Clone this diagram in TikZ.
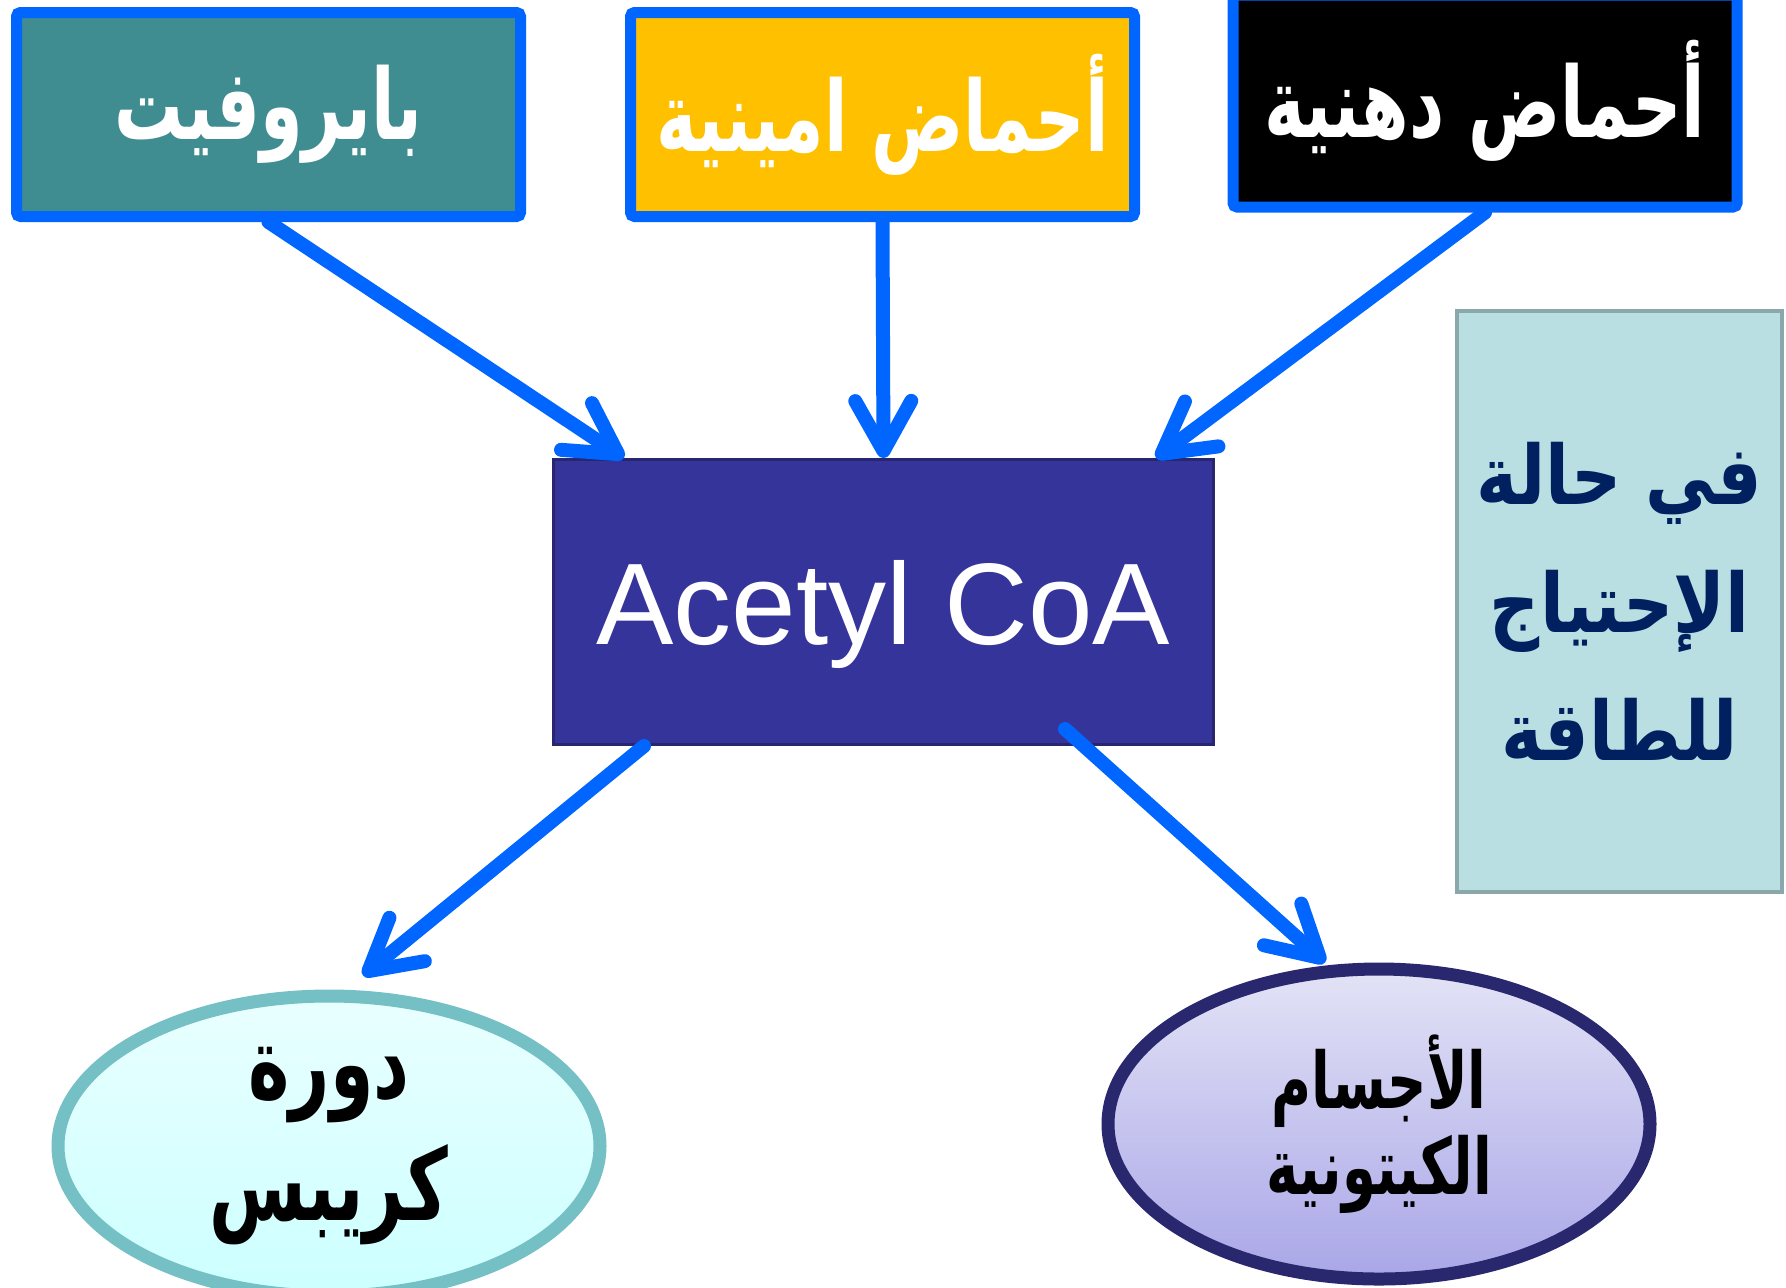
\documentclass[tikz,border=0pt]{standalone}
\usepackage{fontspec}
\setmainfont{Liberation Sans}
\newfontfamily\arabicfont[Script=Arabic, FakeStretch=0.7]{DejaVu Sans}
\newfontfamily\arabicbreit[Script=Arabic, FakeStretch=0.85]{DejaVu Sans}
\TeXXeTstate=1
\usetikzlibrary{arrows.meta,shapes.geometric}
\definecolor{pfeilblau}{HTML}{0066FF}
\definecolor{pyrtuerkis}{HTML}{3F8C91}
\definecolor{aminogelb}{HTML}{FFC000}
\definecolor{acetylblau}{HTML}{35349A}
\definecolor{acetylrand}{HTML}{27266E}
\definecolor{seitenblau}{HTML}{BADFE2}
\definecolor{seitenrand}{HTML}{8AA8AA}
\definecolor{seitentext}{HTML}{002060}
\definecolor{krebsoben}{HTML}{E9FFFF}
\definecolor{krebsunten}{HTML}{CCFFFF}
\definecolor{krebsrand}{HTML}{74C0C4}
\definecolor{ketooben}{HTML}{E3E3F6}
\definecolor{ketounten}{HTML}{A9A6E7}
\definecolor{ketorand}{HTML}{29286F}

\begin{document}
\begin{tikzpicture}[x=0.5pt, y=-0.5pt,
    quelle/.style={draw=pfeilblau, line width=5.5pt, rounded corners=2pt,
        minimum width=252pt, minimum height=102pt, inner sep=0pt,
        text=white, font=\arabicfont\bfseries\fontsize{49}{56}\selectfont},
    ziel/.style={ellipse, line width=6.5pt, minimum width=271pt, inner sep=0pt,
        align=center},
    pfeil/.style={draw=pfeilblau, line width=7pt, line cap=round,
        -{Straight Barb[length=25pt, width=28pt, round]}}]
    \useasboundingbox (0,0) rectangle (1786,1287);

    % Ausgangsstoffe oben
    \node[quelle, fill=pyrtuerkis] (pyr) at (268.5,114.5) {\beginR بايروفيت\endR};
    \node[quelle, fill=aminogelb] (amino) at (882.5,114.5) {\beginR أحماض امينية\endR};
    \node[quelle, fill=black, minimum height=106pt] (fett) at (1485,101) {\beginR أحماض دهنية\endR};

    % Acetyl CoA in der Mitte
    \node[draw=acetylrand, fill=acetylblau, line width=1.5pt, minimum width=330pt,
        minimum height=142.5pt, text=white, text height=54pt, text depth=12pt,
        font=\fontsize{58}{64}\selectfont]
        (acetyl) at (883.5,602) {Acetyl CoA};

    % Hinweis rechts
    \node[draw=seitenrand, fill=seitenblau, line width=2pt, minimum width=162.5pt,
        minimum height=290.5pt, text=seitentext, align=center,
        font=\arabicbreit\bfseries\fontsize{41}{64}\selectfont]
        (hinweis) at (1619.5,601.5) {\beginR في حالة\endR\\\beginR الإحتياج\endR\\\beginR للطاقة\endR};

    % Produkte unten
    \node[ziel, draw=krebsrand, top color=krebsoben, bottom color=krebsunten,
        minimum height=150pt, font=\arabicfont\bfseries\fontsize{50}{61}\selectfont]
        (krebs) at (329,1146) {\beginR دورة\endR\\\beginR كريبس\endR};
    \node[ziel, draw=ketorand, top color=ketooben, bottom color=ketounten,
        minimum height=155pt, font=\arabicfont\bfseries\fontsize{39}{43}\selectfont]
        (keto) at (1379,1124) {\beginR الأجسام\endR\\\beginR الكيتونية\endR};

    % Pfeile
    \draw[pfeil] (pyr.south) -- ([xshift=36pt]acetyl.north west);
    \draw[pfeil] (amino.south) -- (acetyl.north);
    \draw[pfeil] (fett.south) -- ([xshift=-29.5pt]acetyl.north east);
    \draw[pfeil] ([xshift=46pt]acetyl.south west) -- ([xshift=17pt,yshift=7pt]krebs.north);
    \draw[pfeil] ([xshift=256.5pt,yshift=8.5pt]acetyl.south west) -- ([xshift=-27pt]keto.north);
\end{tikzpicture}
\end{document}
